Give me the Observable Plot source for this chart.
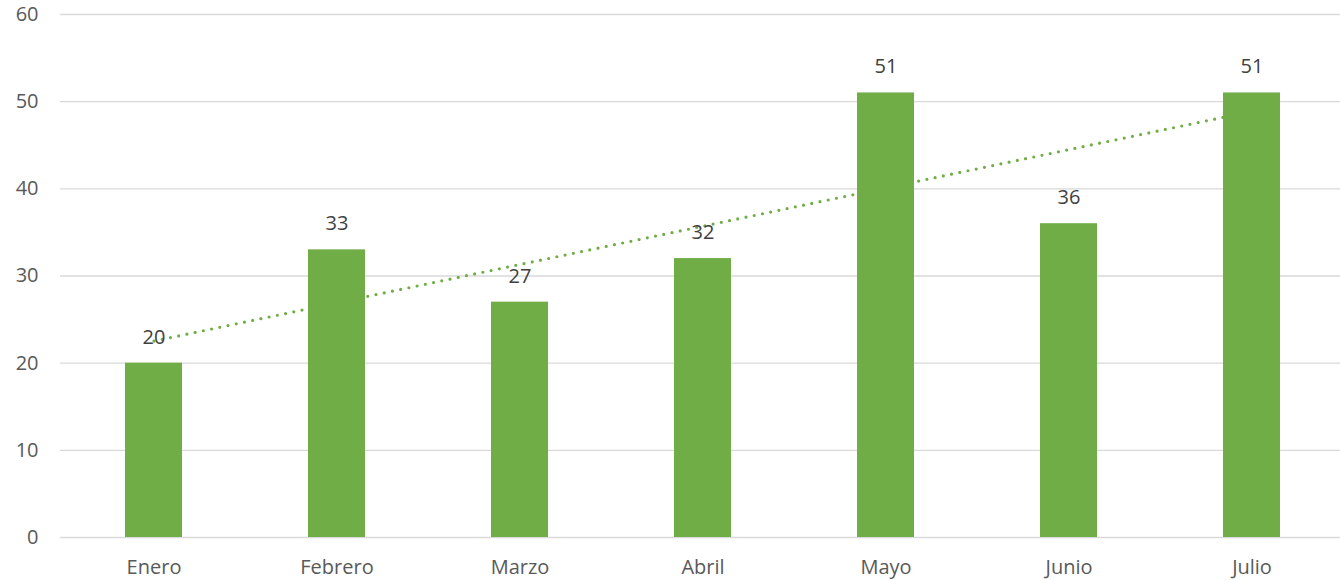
<!DOCTYPE html>
<html>
<head>
<meta charset="utf-8">
<script src="https://cdn.jsdelivr.net/npm/d3@7"></script>
<script src="https://cdn.jsdelivr.net/npm/@observablehq/plot@0.6"></script>
<style>
  html, body { margin: 0; padding: 0; background: #fff; }
  #chart { width: 1340px; height: 580px; }
</style>
</head>
<body>
<div id="chart"></div>
<script>
const months = ["Enero", "Febrero", "Marzo", "Abril", "Mayo", "Junio", "Julio"];
const values = [20, 33, 27, 32, 51, 36, 51];
const yTicks = [0, 10, 20, 30, 40, 50, 60];

const data = months.map((m, i) => ({month: m, value: values[i]}));

// Linear trend line (least squares over month index), as in the source chart
const n = values.length;
const xs = d3.range(n);
const mx = d3.mean(xs), my = d3.mean(values);
const slope = d3.sum(xs, (x, i) => (x - mx) * (values[i] - my)) / d3.sum(xs, x => (x - mx) ** 2);
const intercept = my - slope * mx;
const trend = months.map((m, i) => ({month: m, value: intercept + slope * i}));

const font = "'Open Sans', sans-serif";

const chart = Plot.plot({
  width: 1340,
  height: 580,
  marginLeft: 60,
  marginRight: 0,
  marginTop: 14,
  marginBottom: 43,
  style: {fontFamily: font, fontSize: "20px", color: "#595959", background: "#fff"},
  x: {domain: months, range: [60, 1344], paddingInner: 0.689, paddingOuter: 0.347, label: null},
  y: {domain: [0, 60], label: null},
  marks: [
    Plot.gridY(yTicks, {stroke: "#d9d9d9", strokeOpacity: 1, strokeWidth: 1.4}),
    Plot.axisY(yTicks, {tickSize: 0, tickPadding: 22, fill: "#595959", fontSize: 20, label: null}),
    Plot.axisX({tickSize: 0, tickPadding: 22, fill: "#595959", fontSize: 20, label: null}),
    Plot.line(trend, {x: "month", y: "value", stroke: "#70AD47", strokeWidth: 3.2,
      strokeLinecap: "round", strokeDasharray: "0 8.4"}),
    Plot.barY(data, {x: "month", y: "value", fill: "#70AD47"}),
    Plot.text(data, {x: "month", y: "value", text: d => String(d.value), dy: -26,
      fill: "#404040", fontSize: 20})
  ]
});
document.getElementById("chart").append(chart);
</script>
</body>
</html>
